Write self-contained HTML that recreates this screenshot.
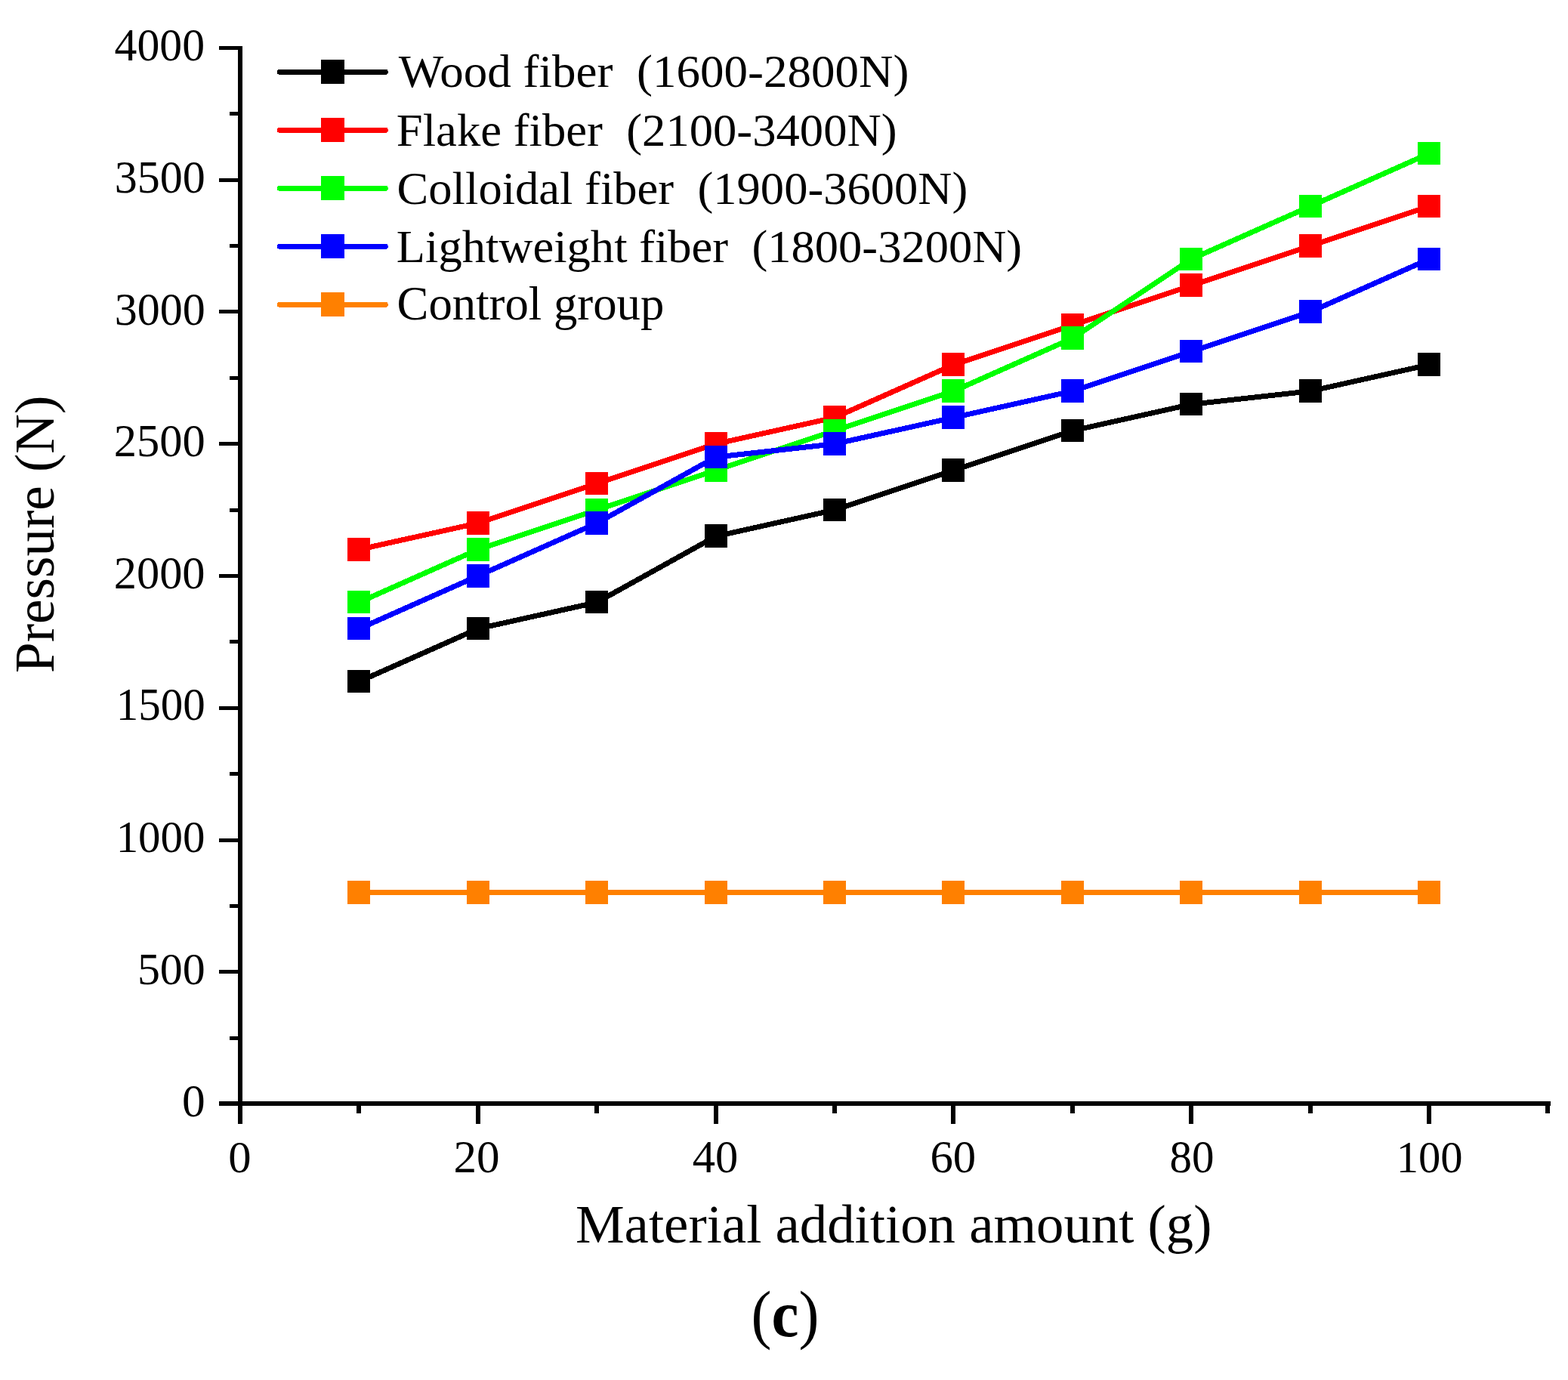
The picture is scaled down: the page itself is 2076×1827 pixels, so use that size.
<!DOCTYPE html>
<html><head><meta charset="utf-8"><title>Pressure vs material addition amount</title>
<style>
html,body{margin:0;padding:0;background:#fff;}
body{width:2076px;height:1827px;overflow:hidden;}
svg{display:block;}
text{font-family:"Liberation Serif","Times New Roman",serif;fill:#000;}
</style></head><body>
<svg width="2076" height="1827" viewBox="0 0 2076 1827" shape-rendering="crispEdges">
<rect width="2076" height="1827" fill="#fff"/>
<g fill="#000">
<rect x="315" y="61" width="6" height="1403"/>
<rect x="290" y="1458" width="1763" height="6"/>
<rect x="290" y="1459" width="25" height="5"/>
<rect x="304" y="1372" width="11" height="5"/>
<rect x="290" y="1284" width="25" height="5"/>
<rect x="304" y="1197" width="11" height="5"/>
<rect x="290" y="1110" width="25" height="5"/>
<rect x="304" y="1022" width="11" height="5"/>
<rect x="290" y="935" width="25" height="5"/>
<rect x="304" y="847" width="11" height="5"/>
<rect x="290" y="760" width="25" height="5"/>
<rect x="304" y="673" width="11" height="5"/>
<rect x="290" y="585" width="25" height="5"/>
<rect x="304" y="498" width="11" height="5"/>
<rect x="290" y="410" width="25" height="5"/>
<rect x="304" y="323" width="11" height="5"/>
<rect x="290" y="236" width="25" height="5"/>
<rect x="304" y="148" width="11" height="5"/>
<rect x="290" y="61" width="25" height="5"/>
<rect x="315" y="1464" width="6" height="24"/>
<rect x="472.4" y="1464" width="6" height="10"/>
<rect x="629.8" y="1464" width="6" height="24"/>
<rect x="787.2" y="1464" width="6" height="10"/>
<rect x="944.6" y="1464" width="6" height="24"/>
<rect x="1102" y="1464" width="6" height="10"/>
<rect x="1259.4" y="1464" width="6" height="24"/>
<rect x="1416.8" y="1464" width="6" height="10"/>
<rect x="1574.2" y="1464" width="6" height="24"/>
<rect x="1731.6" y="1464" width="6" height="10"/>
<rect x="1889" y="1464" width="6" height="24"/>
<rect x="2046.4" y="1464" width="6" height="10"/>
</g>
<polyline points="475.4,902.3 632.8,832.4 790.2,797.45 947.6,710.08 1105,675.12 1262.4,622.7 1419.8,570.28 1577.2,535.33 1734.6,517.85 1892,482.9" fill="none" stroke="#000000" stroke-width="7" stroke-linejoin="round" stroke-linecap="round" shape-rendering="crispEdges"/>
<rect x="460.3" y="886.7" width="30" height="30.6" fill="#000000"/>
<rect x="617.7" y="816.8" width="30" height="30.6" fill="#000000"/>
<rect x="775.1" y="781.85" width="30" height="30.6" fill="#000000"/>
<rect x="932.5" y="694.48" width="30" height="30.6" fill="#000000"/>
<rect x="1089.9" y="659.53" width="30" height="30.6" fill="#000000"/>
<rect x="1247.3" y="607.1" width="30" height="30.6" fill="#000000"/>
<rect x="1404.7" y="554.68" width="30" height="30.6" fill="#000000"/>
<rect x="1562.1" y="519.73" width="30" height="30.6" fill="#000000"/>
<rect x="1719.5" y="502.25" width="30" height="30.6" fill="#000000"/>
<rect x="1876.9" y="467.3" width="30" height="30.6" fill="#000000"/>
<polyline points="475.4,727.55 632.8,692.6 790.2,640.18 947.6,587.75 1105,552.8 1262.4,482.9 1419.8,430.48 1577.2,378.05 1734.6,325.62 1892,273.2" fill="none" stroke="#ff0000" stroke-width="7" stroke-linejoin="round" stroke-linecap="round" shape-rendering="crispEdges"/>
<rect x="460.3" y="711.95" width="30" height="30.6" fill="#ff0000"/>
<rect x="617.7" y="677" width="30" height="30.6" fill="#ff0000"/>
<rect x="775.1" y="624.58" width="30" height="30.6" fill="#ff0000"/>
<rect x="932.5" y="572.15" width="30" height="30.6" fill="#ff0000"/>
<rect x="1089.9" y="537.2" width="30" height="30.6" fill="#ff0000"/>
<rect x="1247.3" y="467.3" width="30" height="30.6" fill="#ff0000"/>
<rect x="1404.7" y="414.88" width="30" height="30.6" fill="#ff0000"/>
<rect x="1562.1" y="362.45" width="30" height="30.6" fill="#ff0000"/>
<rect x="1719.5" y="310.02" width="30" height="30.6" fill="#ff0000"/>
<rect x="1876.9" y="257.6" width="30" height="30.6" fill="#ff0000"/>
<polyline points="475.4,797.45 632.8,727.55 790.2,675.12 947.6,622.7 1105,570.28 1262.4,517.85 1419.8,447.95 1577.2,343.1 1734.6,273.2 1892,203.3" fill="none" stroke="#00ff00" stroke-width="7" stroke-linejoin="round" stroke-linecap="round" shape-rendering="crispEdges"/>
<rect x="460.3" y="781.85" width="30" height="30.6" fill="#00ff00"/>
<rect x="617.7" y="711.95" width="30" height="30.6" fill="#00ff00"/>
<rect x="775.1" y="659.53" width="30" height="30.6" fill="#00ff00"/>
<rect x="932.5" y="607.1" width="30" height="30.6" fill="#00ff00"/>
<rect x="1089.9" y="554.68" width="30" height="30.6" fill="#00ff00"/>
<rect x="1247.3" y="502.25" width="30" height="30.6" fill="#00ff00"/>
<rect x="1404.7" y="432.35" width="30" height="30.6" fill="#00ff00"/>
<rect x="1562.1" y="327.5" width="30" height="30.6" fill="#00ff00"/>
<rect x="1719.5" y="257.6" width="30" height="30.6" fill="#00ff00"/>
<rect x="1876.9" y="187.7" width="30" height="30.6" fill="#00ff00"/>
<polyline points="475.4,832.4 632.8,762.5 790.2,692.6 947.6,605.23 1105,587.75 1262.4,552.8 1419.8,517.85 1577.2,465.43 1734.6,413 1892,343.1" fill="none" stroke="#0000ff" stroke-width="7" stroke-linejoin="round" stroke-linecap="round" shape-rendering="crispEdges"/>
<rect x="460.3" y="816.8" width="30" height="30.6" fill="#0000ff"/>
<rect x="617.7" y="746.9" width="30" height="30.6" fill="#0000ff"/>
<rect x="775.1" y="677" width="30" height="30.6" fill="#0000ff"/>
<rect x="932.5" y="589.63" width="30" height="30.6" fill="#0000ff"/>
<rect x="1089.9" y="572.15" width="30" height="30.6" fill="#0000ff"/>
<rect x="1247.3" y="537.2" width="30" height="30.6" fill="#0000ff"/>
<rect x="1404.7" y="502.25" width="30" height="30.6" fill="#0000ff"/>
<rect x="1562.1" y="449.83" width="30" height="30.6" fill="#0000ff"/>
<rect x="1719.5" y="397.4" width="30" height="30.6" fill="#0000ff"/>
<rect x="1876.9" y="327.5" width="30" height="30.6" fill="#0000ff"/>
<polyline points="475.4,1181.9 632.8,1181.9 790.2,1181.9 947.6,1181.9 1105,1181.9 1262.4,1181.9 1419.8,1181.9 1577.2,1181.9 1734.6,1181.9 1892,1181.9" fill="none" stroke="#ff8000" stroke-width="7" stroke-linejoin="round" stroke-linecap="round" shape-rendering="crispEdges"/>
<rect x="460.3" y="1166.3" width="30" height="30.6" fill="#ff8000"/>
<rect x="617.7" y="1166.3" width="30" height="30.6" fill="#ff8000"/>
<rect x="775.1" y="1166.3" width="30" height="30.6" fill="#ff8000"/>
<rect x="932.5" y="1166.3" width="30" height="30.6" fill="#ff8000"/>
<rect x="1089.9" y="1166.3" width="30" height="30.6" fill="#ff8000"/>
<rect x="1247.3" y="1166.3" width="30" height="30.6" fill="#ff8000"/>
<rect x="1404.7" y="1166.3" width="30" height="30.6" fill="#ff8000"/>
<rect x="1562.1" y="1166.3" width="30" height="30.6" fill="#ff8000"/>
<rect x="1719.5" y="1166.3" width="30" height="30.6" fill="#ff8000"/>
<rect x="1876.9" y="1166.3" width="30" height="30.6" fill="#ff8000"/>
<line x1="370.4" y1="95.35" x2="510.3" y2="95.35" stroke="#000000" stroke-width="7" stroke-linecap="round" shape-rendering="crispEdges"/>
<rect x="425" y="78.95" width="31" height="32" fill="#000000"/>
<line x1="370.4" y1="172.35" x2="510.3" y2="172.35" stroke="#ff0000" stroke-width="7" stroke-linecap="round" shape-rendering="crispEdges"/>
<rect x="425" y="155.95" width="31" height="32" fill="#ff0000"/>
<line x1="370.4" y1="249.35" x2="510.3" y2="249.35" stroke="#00ff00" stroke-width="7" stroke-linecap="round" shape-rendering="crispEdges"/>
<rect x="425" y="232.95" width="31" height="32" fill="#00ff00"/>
<line x1="370.4" y1="326.35" x2="510.3" y2="326.35" stroke="#0000ff" stroke-width="7" stroke-linecap="round" shape-rendering="crispEdges"/>
<rect x="425" y="309.95" width="31" height="32" fill="#0000ff"/>
<line x1="370.4" y1="403.35" x2="510.3" y2="403.35" stroke="#ff8000" stroke-width="7" stroke-linecap="round" shape-rendering="crispEdges"/>
<rect x="425" y="386.95" width="31" height="32" fill="#ff8000"/>
<g font-family="Liberation Serif, Times New Roman, serif">
<text transform="matrix(0.9957 0 0 1.0099 151.5554 80.2951)" font-size="60" xml:space="preserve">4000</text>
<text transform="matrix(1.0009 0 0 1.0198 151.6476 255.4901)" font-size="60" xml:space="preserve">3500</text>
<text transform="matrix(1.0009 0 0 1.0222 151.6476 430.3889)" font-size="60" xml:space="preserve">3000</text>
<text transform="matrix(1.0082 0 0 1.0296 150.7794 604.4852)" font-size="60" xml:space="preserve">2500</text>
<text transform="matrix(1.0065 0 0 1.0272 150.7837 779.2864)" font-size="60" xml:space="preserve">2000</text>
<text transform="matrix(0.9831 0 0 1.0123 153.7387 953.2938)" font-size="60" xml:space="preserve">1500</text>
<text transform="matrix(0.9822 0 0 0.9926 153.6433 1127.9037)" font-size="60" xml:space="preserve">1000</text>
<text transform="matrix(0.9982 0 0 0.9975 181.9062 1303.3012)" font-size="60" xml:space="preserve">500</text>
<text transform="matrix(1.0235 0 0 1.0049 241.0971 1478.3975)" font-size="60" xml:space="preserve">0</text>
<text transform="matrix(1.0118 0 0 1.0025 302.3235 1552.0988)" font-size="60" xml:space="preserve">0</text>
<text transform="matrix(1.019 0 0 1.0173 600.4525 1552.3914)" font-size="60" xml:space="preserve">20</text>
<text transform="matrix(1.0088 0 0 1.0148 916.6389 1552.2926)" font-size="60" xml:space="preserve">40</text>
<text transform="matrix(1.0136 0 0 1.0173 1231.4661 1552.3914)" font-size="60" xml:space="preserve">60</text>
<text transform="matrix(0.9838 0 0 1.0148 1548.3865 1552.2926)" font-size="60" xml:space="preserve">80</text>
<text transform="matrix(0.977 0 0 1.0025 1848.6709 1552.0988)" font-size="60" xml:space="preserve">100</text>
<text transform="matrix(1.0004 0 0 0.9828 527.7 115.3328)" font-size="63" xml:space="preserve">Wood fiber  (1600-2800N)</text>
<text transform="matrix(0.9943 0 0 0.987 524.86 192.6221)" font-size="63" xml:space="preserve">Flake fiber  (2100-3400N)</text>
<text transform="matrix(0.9933 0 0 0.987 525.6167 269.7221)" font-size="63" xml:space="preserve">Colloidal fiber  (1900-3600N)</text>
<text transform="matrix(0.9928 0 0 0.9785 524.8627 347.4451)" font-size="63" xml:space="preserve">Lightweight fiber  (1800-3200N)</text>
<text transform="matrix(0.9959 0 0 0.9948 525.6103 423.4217)" font-size="63" xml:space="preserve">Control group</text>
<text transform="matrix(0 -0.9876 0.9896 0 71.1146 890.8752)" font-size="74" xml:space="preserve">Pressure (N)</text>
<text transform="matrix(0.9833 0 0 0.9778 761.9335 1645.2556)" font-size="74" xml:space="preserve">Material addition amount (g)</text>
<text transform="matrix(0.9315 0 0 0.9892 994.507 1768.5997)" font-size="87" font-weight="bold" xml:space="preserve"><tspan font-weight="normal">(</tspan>c<tspan font-weight="normal">)</tspan></text>
</g>
</svg>
</body></html>
